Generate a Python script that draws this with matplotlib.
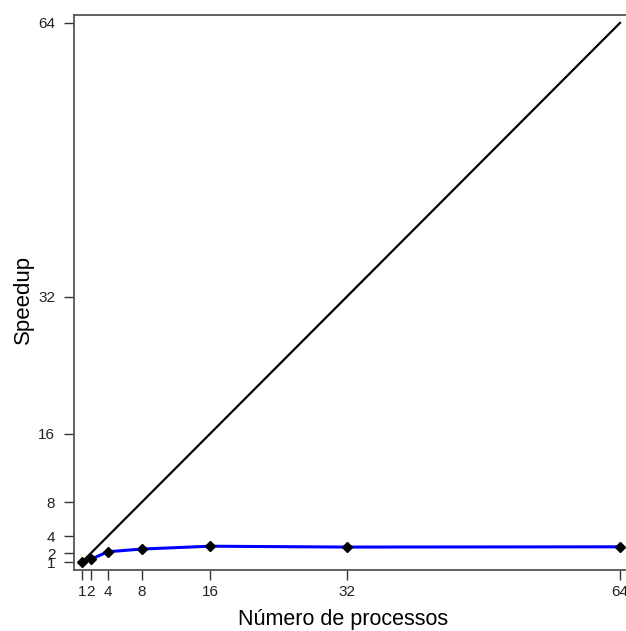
import matplotlib
matplotlib.use("Agg")
import matplotlib.pyplot as plt

plt.rcParams['font.family'] = ['Liberation Sans', 'DejaVu Sans']

# numero de processos e speedup medido
processos = [1, 2, 4, 8, 16, 32, 64]
speedup = [1.0, 1.3, 2.2, 2.52, 2.85, 2.75, 2.78]
ticks = [1, 2, 4, 8, 16, 32, 64]

W, H = 626, 631
fig = plt.figure(figsize=(W / 100, H / 100), dpi=100)
# eixo vai um pouco alem da borda direita, como no original
left, right, top, bottom = 74, 628, 15, 570
ax = fig.add_axes([left / W, 1 - bottom / H, (right - left) / W, (bottom - top) / H])

# speedup ideal
ax.plot(processos, processos, color='black', lw=1.6, zorder=2)
# speedup obtido
ax.plot(processos, speedup, color='#0000ff', lw=2.2, zorder=3)
ax.plot(processos, speedup, ls='none', marker='D', ms=5, color='black', zorder=4)

ax.set_xlim(0.06, 64.94)
ax.set_ylim(0.07, 64.93)
ax.set_xticks(ticks)
ax.set_yticks(ticks)
ax.tick_params(direction='out', length=7, width=1, color='#333333',
               labelsize=11, labelcolor='#222222')
ax.tick_params(axis='x', pad=4)
ax.tick_params(axis='y', pad=6.5)

for s in ax.spines.values():
    s.set_color('#555555')
    s.set_linewidth(1.3)

ax.set_xlabel('Número de processos', fontsize=15.5)
ax.set_ylabel('Speedup', fontsize=16)
ax.xaxis.label.set_va('center')
ax.yaxis.label.set_va('center')
ax.xaxis.set_label_coords((343 - left) / (right - left), (bottom - 619) / (bottom - top))
ax.yaxis.set_label_coords((23 - left) / (right - left), (bottom - 299) / (bottom - top))

fig.savefig('out.png', dpi=100)
